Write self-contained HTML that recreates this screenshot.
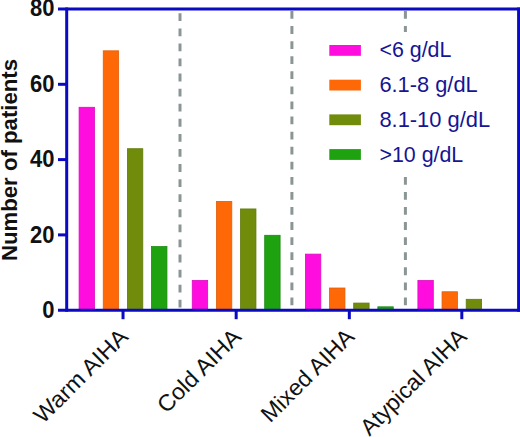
<!DOCTYPE html>
<html><head><meta charset="utf-8"><title>Chart</title>
<style>html,body{margin:0;padding:0;background:#fff}svg{display:block}</style></head>
<body>
<svg width="520" height="437" viewBox="0 0 520 437">
<rect width="520" height="437" fill="#fff"/>
<line x1="180.0" y1="13.3" x2="180.0" y2="309" stroke="#8B9596" stroke-width="3" stroke-dasharray="7.8 7.28"/>
<line x1="291.9" y1="11.0" x2="291.9" y2="309" stroke="#8B9596" stroke-width="3" stroke-dasharray="7.8 7.28"/>
<line x1="405.4" y1="11.0" x2="405.4" y2="309" stroke="#8B9596" stroke-width="3" stroke-dasharray="7.8 7.28"/>
<rect x="322" y="32" width="180" height="142" fill="#fff"/>
<rect x="79.10" y="107.29" width="15.40" height="203.31" fill="#FF0CDF" stroke="#DC0CC0" stroke-width="0.8"/>
<rect x="103.25" y="50.82" width="15.40" height="259.78" fill="#FF6806" stroke="#E05E0A" stroke-width="0.8"/>
<rect x="127.40" y="148.71" width="15.40" height="161.89" fill="#708C0A" stroke="#617A0A" stroke-width="0.8"/>
<rect x="151.55" y="246.59" width="15.40" height="64.00" fill="#1EA210" stroke="#1A8A10" stroke-width="0.8"/>
<rect x="192.25" y="280.48" width="15.40" height="30.12" fill="#FF0CDF" stroke="#DC0CC0" stroke-width="0.8"/>
<rect x="216.40" y="201.41" width="15.40" height="109.18" fill="#FF6806" stroke="#E05E0A" stroke-width="0.8"/>
<rect x="240.55" y="208.95" width="15.40" height="101.65" fill="#708C0A" stroke="#617A0A" stroke-width="0.8"/>
<rect x="264.70" y="235.30" width="15.40" height="75.30" fill="#1EA210" stroke="#1A8A10" stroke-width="0.8"/>
<rect x="305.40" y="254.12" width="15.40" height="56.47" fill="#FF0CDF" stroke="#DC0CC0" stroke-width="0.8"/>
<rect x="329.55" y="288.01" width="15.40" height="22.59" fill="#FF6806" stroke="#E05E0A" stroke-width="0.8"/>
<rect x="353.70" y="303.07" width="15.40" height="7.53" fill="#708C0A" stroke="#617A0A" stroke-width="0.8"/>
<rect x="377.85" y="306.83" width="15.40" height="3.76" fill="#1EA210" stroke="#1A8A10" stroke-width="0.8"/>
<rect x="417.90" y="280.48" width="15.40" height="30.12" fill="#FF0CDF" stroke="#DC0CC0" stroke-width="0.8"/>
<rect x="442.05" y="291.77" width="15.40" height="18.82" fill="#FF6806" stroke="#E05E0A" stroke-width="0.8"/>
<rect x="466.20" y="299.30" width="15.40" height="11.29" fill="#708C0A" stroke="#617A0A" stroke-width="0.8"/>
<g stroke="#0A0AC0" stroke-width="3.0" fill="none" stroke-linecap="butt">
<path d="M58 9.0 H520"/>
<path d="M58 310.2 H520"/>
<path d="M66.7 7.5 V311.7"/>
<path d="M518.6 7.5 V311.7"/>
<path d="M58 234.90 H66"/>
<path d="M58 159.60 H66"/>
<path d="M58 84.30 H66"/>
<path d="M123.03 310.2 V319.2"/>
<path d="M236.17 310.2 V319.2"/>
<path d="M349.32 310.2 V319.2"/>
<path d="M461.82 310.2 V319.2"/>
</g>
<g font-family="'Liberation Sans', Arial, Helvetica, sans-serif" font-weight="bold" font-size="22" fill="#111" text-anchor="end">
<text transform="translate(54.4 318.00) scale(1 1.05)">0</text>
<text transform="translate(54.4 242.70) scale(1 1.05)">20</text>
<text transform="translate(54.4 167.40) scale(1 1.05)">40</text>
<text transform="translate(54.4 92.10) scale(1 1.05)">60</text>
<text transform="translate(54.4 15.80) scale(1 1.05)">80</text>
</g>
<text transform="translate(16.9 160) rotate(-90) scale(1 1.02)" font-family="'Liberation Sans', Arial, Helvetica, sans-serif" font-weight="bold" font-size="22.2" fill="#111" text-anchor="middle">Number of patients</text>
<g font-family="'Liberation Sans', Arial, Helvetica, sans-serif" font-size="22" fill="#111" text-anchor="end">
<text transform="translate(129.33 338.2) rotate(-45) scale(1.07 1.04)">Warm AIHA</text>
<text transform="translate(242.47 338.2) rotate(-45) scale(1.06 1.04)">Cold AIHA</text>
<text transform="translate(355.62 338.2) rotate(-45) scale(1.05 1.04)">Mixed AIHA</text>
<text transform="translate(468.12 338.2) rotate(-45) scale(1.046 1.04)">Atypical AIHA</text>
</g>
<g font-family="'Liberation Sans', Arial, Helvetica, sans-serif" font-size="21.4" fill="#151594">
<rect x="329.3" y="45.00" width="31.6" height="10.8" fill="#FF0CDF"/>
<text transform="translate(379.4 57.40) scale(1.0 1)">&lt;6 g/dL</text>
<rect x="329.3" y="79.70" width="31.6" height="10.8" fill="#FF6806"/>
<text transform="translate(379.4 92.10) scale(1.02 1)">6.1-8 g/dL</text>
<rect x="329.3" y="114.40" width="31.6" height="10.8" fill="#708C0A"/>
<text transform="translate(379.4 126.80) scale(1.023 1)">8.1-10 g/dL</text>
<rect x="329.3" y="149.10" width="31.6" height="10.8" fill="#1EA210"/>
<text transform="translate(379.4 161.50) scale(1.0 1)">&gt;10 g/dL</text>
</g>
</svg>
</body></html>
